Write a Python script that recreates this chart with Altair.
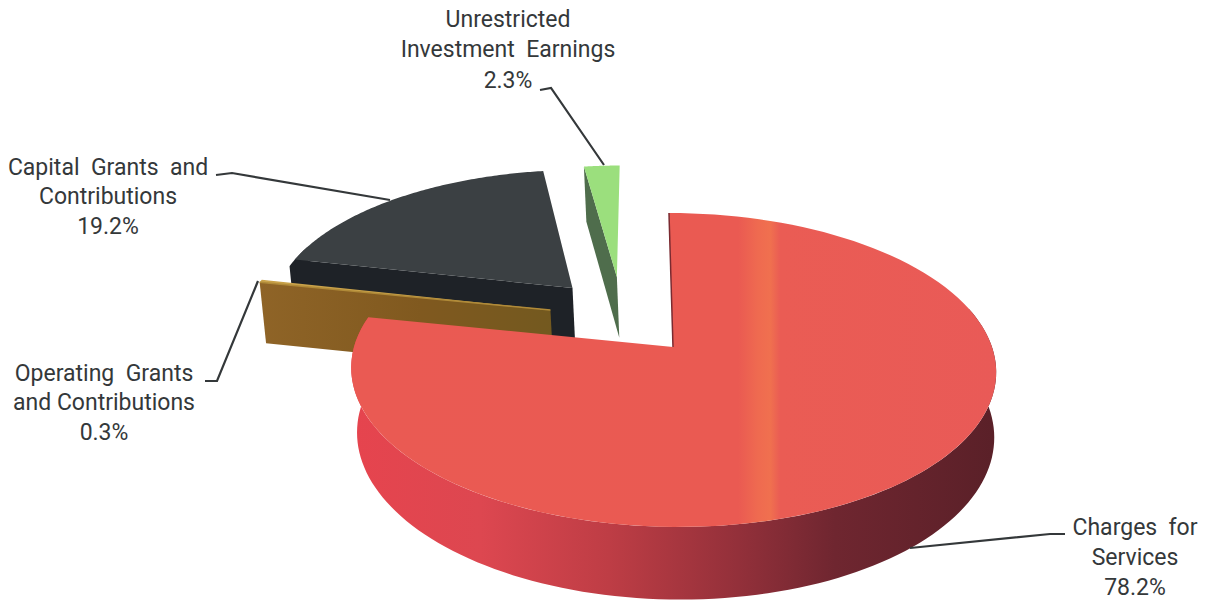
import math
import altair as alt
import pandas as pd

# Revenue shares, clockwise from twelve o'clock
CATEGORIES = ["Charges for Services", "Operating Grants and Contributions",
              "Capital Grants and Contributions", "Unrestricted Investment Earnings"]
SHARES = [78.2, 0.3, 19.2, 2.3]
LABEL_LINES = [
    ["Charges\u00a0 for", "Services", "78.2%"],
    ["Operating\u00a0 Grants", "and Contributions", "0.3%"],
    ["Capital\u00a0 Grants\u00a0 and", "Contributions", "19.2%"],
    ["Unrestricted", "Investment\u00a0 Earnings", "2.3%"],
]

# Camera of the tilted pie
CX, CY = 673.0, 347.0
RX, RY = 319.0, 153.6
PERSPECTIVE = 0.1465
SHEAR = 0.03
THICKNESS = 65.0
# Exploded position (ground-plane units) and radius of each slice
EXPLODE = [(0.0, 0.0), (-0.3947, -0.2497), (-0.328, -0.407), (-0.1815, -0.4886)]
RADIUS = [1.0, 1.0, 0.98, 0.94]

INK = "#34383a"
FONT = "Roboto"
FONT_SIZE = 23
LABEL_X = [1135, 104, 108, 508]
LABEL_Y = [[528, 558, 588], [374, 403, 433], [168, 197, 227], [20, 50, 81]]
LEADERS = [
    [(1065, 534), (1050, 534), (910, 548)],
    [(205, 381), (217, 381), (258, 281)],
    [(216, 175), (232, 173), (390, 200)],
    [(540, 90), (551, 88), (604, 165)],
]


def project(u, v, z=0.0):
    s = 1.0 / (1.0 - PERSPECTIVE * v + 0.012 * z)
    y = CY + RY * v * s + THICKNESS * z * s
    x = CX + RX * u * s + SHEAR * (y - CY)
    return [round(x, 2), round(y, 2)]


def rim(i, a, b, z=0.0, n=120):
    ox, oy = EXPLODE[i]
    r = RADIUS[i]
    pts = []
    for k in range(n + 1):
        t = math.radians(a + (b - a) * k / n)
        pts.append(project(ox + r * math.sin(t), oy - r * math.cos(t), z))
    return pts


def hub(i, z=0.0):
    return project(EXPLODE[i][0], EXPLODE[i][1], z)


def polygon(pts):
    ring = list(pts) + [pts[0]]
    return {"type": "Feature", "properties": {},
            "geometry": {"type": "Polygon", "coordinates": [ring]}}


def polyline(pts):
    return {"type": "Feature", "properties": {},
            "geometry": {"type": "LineString", "coordinates": [list(p) for p in pts]}}


def gradient(*stops):
    return alt.LinearGradient(
        gradient="linear", x1=0, x2=1, y1=0, y2=0,
        stops=[alt.GradientStop(offset=o, color=c) for o, c in stops],
    )


def face(feature, fill):
    return alt.Chart(alt.Data(values=[feature])).mark_geoshape(
        fill=fill, strokeWidth=0
    ).project(type="identity", scale=1, translate=[0, 0])


def edge(feature, color, width):
    return alt.Chart(alt.Data(values=[feature])).mark_geoshape(
        filled=False, stroke=color, strokeWidth=width
    ).project(type="identity", scale=1, translate=[0, 0])


def radial_wall(i, angle):
    top = [hub(i), rim(i, angle, angle, 0, 1)[0]]
    bottom = [rim(i, angle, angle, 1, 1)[0], hub(i, 1)]
    return polygon(top + bottom)


# Slice angles from the shares
edges = [0.0]
for share in SHARES:
    edges.append(edges[-1] + share / sum(SHARES) * 360.0)
a = [(edges[i], edges[i + 1]) for i in range(4)]

layers = []

# Capital grants: front wall, rim, then top
layers.append(face(polygon(rim(2, a[2][0] - 3, a[2][0] + 6) + rim(2, a[2][0] + 6, a[2][0] - 3, 1)), "#1e2227"))
layers.append(face(radial_wall(2, a[2][0]), "#1e2227"))
layers.append(face(polygon([hub(2)] + rim(2, *a[2])), "#3b4043"))

# Unrestricted earnings: wall then top
layers.append(face(radial_wall(3, a[3][0]), "#4f6d4c"))
layers.append(face(polygon([hub(3)] + rim(3, *a[3])), "#9bdf7d"))

# Operating grants: wall and thin top
layers.append(face(radial_wall(1, a[1][0]),
                   gradient((0, "#8f6427"), (0.55, "#80591f"), (1, "#73591f"))))
layers.append(face(polygon([hub(1)] + rim(1, *a[1])), "#c9a24a"))
layers.append(edge(polyline([rim(1, a[1][0], a[1][0], 0, 1)[0], hub(1)]), "#b08a38", 1.5))

# Charges for services: rim wall, top, dark seam on the open edge
layers.append(face(polygon(rim(0, 75, a[0][1]) + rim(0, a[0][1], 75, 1)),
                   gradient((0, "#e6444e"), (0.2, "#dd4750"), (0.4, "#be3d45"),
                            (0.6, "#93303a"), (0.75, "#6f2630"), (1, "#5a2028"))))
layers.append(face(polygon([hub(0)] + rim(0, *a[0])),
                   gradient((0, "#ea5a53"), (0.6, "#ea5a52"), (0.63, "#ef6a50"),
                            (0.65, "#f0704f"), (0.665, "#ea5c54"), (1, "#e95a57"))))
layers.append(edge(polyline([rim(0, 0, 0, 0, 1)[0], hub(0)]), "#7a2a30", 1.5))

# Leader lines
for pts in LEADERS:
    layers.append(edge(polyline(pts), INK, 2.2))

# Labels
rows = []
for lines, x, ys in zip(LABEL_LINES, LABEL_X, LABEL_Y):
    for line, y in zip(lines, ys):
        rows.append({"text": line, "x": x, "y": y})
labels = alt.Chart(pd.DataFrame(rows)).mark_text(
    font=FONT, fontSize=FONT_SIZE, color=INK, align="center", baseline="middle"
).encode(
    x=alt.X("x:Q", scale=None, axis=None),
    y=alt.Y("y:Q", scale=None, axis=None),
    text="text:N",
)
layers.append(labels)

chart = alt.layer(*layers).properties(
    width=1209, height=600, padding=0, background="#ffffff",
    autosize=alt.AutoSizeParams(type="none"),
).configure_view(strokeWidth=0)

chart.save("out.html", embed_options={"renderer": "svg", "actions": False})
